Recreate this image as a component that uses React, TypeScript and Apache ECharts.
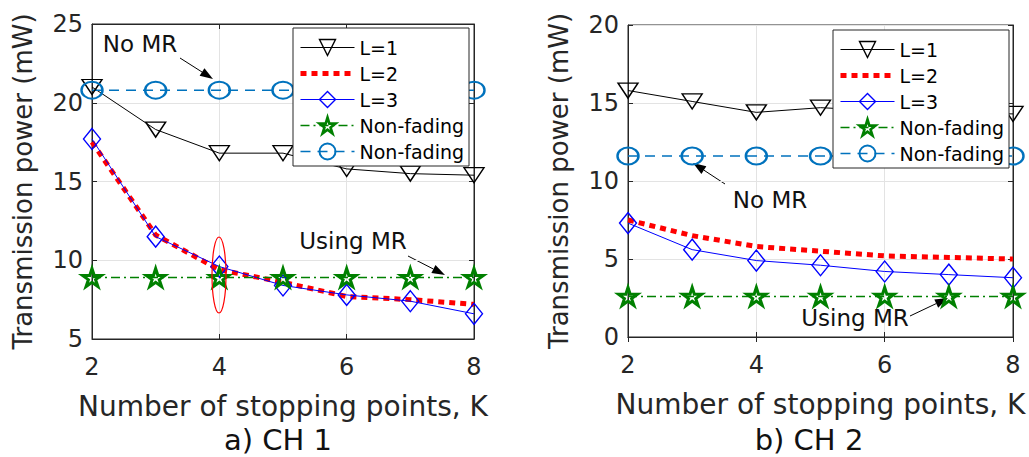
import React, { useEffect, useRef } from "react";
import * as echarts from "echarts";

// ---- data ----
const K = [2, 3, 4, 5, 6, 7, 8];
const xTicks = [2, 4, 6, 8];

const ch1L1 = [21.0, 18.3, 16.8, 16.8, 15.8, 15.5, 15.4];
const ch1L2 = [17.5, 11.6, 9.4, 8.6, 7.7, 7.5, 7.2];
const ch1L3 = [17.7, 11.5, 9.6, 8.4, 7.8, 7.4, 6.6];
const ch1UsingMR = [8.9, 8.9, 8.9, 8.9, 8.9, 8.9, 8.9];
const ch1NoMR = [20.8, 20.8, 20.8, 20.8, 20.8, 20.8, 20.8];

const ch2L1 = [15.8, 15.1, 14.4, 14.7, 14.5, 14.4, 14.3];
const ch2L2 = [7.5, 6.5, 5.8, 5.5, 5.2, 5.1, 5.0];
const ch2L3 = [7.3, 5.6, 4.9, 4.6, 4.2, 4.0, 3.8];
const ch2UsingMR = [2.6, 2.6, 2.6, 2.6, 2.6, 2.6, 2.6];
const ch2NoMR = [11.6, 11.6, 11.6, 11.6, 11.6, 11.6, 11.6];

const seriesNames = ["L=1", "L=2", "L=3", "Non-fading (Using MR)", "Non-fading (No MR)"];
const panelTitles = ["a) CH 1", "b) CH 2"];
const xName = "Number of stopping points, K";
const yName = "Transmission power (mW)";

const FONT = "DejaVu Sans";
const AX = "#262626";

const TRI = "path://M0,0L20,0L10,15Z";
const DIA = "path://M8,0L16,10L8,20L0,10Z";
const CIRC = "path://M0,10A10,10,0,1,1,20,10A10,10,0,1,1,0,10Z";
const STAR = "path://M100,0L122,69L195,69L136,112L159,181L100,138L41,181L64,112L5,69L78,69Z";

function toPts(arr: number[]) {
  return K.map((k, i) => [k, arr[i]]);
}

function makeSeries(xi: number, yi: number, d: number[][]) {
  const base = { type: "line", xAxisIndex: xi, yAxisIndex: yi, clip: false, silent: true };
  return [
    {
      ...base, name: seriesNames[0], data: toPts(d[0]),
      symbol: TRI, symbolSize: [20, 15],
      lineStyle: { color: "#000", width: 1 },
      itemStyle: { color: "rgba(0,0,0,0)", borderColor: "#000", borderWidth: 1.4 },
    },
    {
      ...base, name: seriesNames[1], data: toPts(d[1]),
      symbol: "none",
      lineStyle: { color: "#ff0000", width: 5, type: [6, 5], cap: "butt" },
      itemStyle: { color: "#ff0000" },
    },
    {
      ...base, name: seriesNames[2], data: toPts(d[2]),
      symbol: DIA, symbolSize: [17, 21],
      lineStyle: { color: "#0000ff", width: 1 },
      itemStyle: { color: "rgba(0,0,0,0)", borderColor: "#0000ff", borderWidth: 1.4 },
    },
    {
      ...base, name: seriesNames[3], data: toPts(d[3]),
      symbol: STAR, symbolSize: [19, 18],
      lineStyle: { color: "#008000", width: 1.5, type: [9, 4, 2, 4] },
      itemStyle: { color: "rgba(0,0,0,0)", borderColor: "#008000", borderWidth: 3 },
    },
    {
      ...base, name: seriesNames[4], data: toPts(d[4]),
      symbol: CIRC, symbolSize: [21, 17],
      lineStyle: { color: "#0072BD", width: 1.5, type: [10, 7] },
      itemStyle: { color: "rgba(0,0,0,0)", borderColor: "#0072BD", borderWidth: 2.2 },
    },
  ];
}

function axesFor(grid: number, ymin: number, ymax: number) {
  const tick = { show: true, inside: true, length: 5, lineStyle: { color: AX } };
  const line = { show: true, lineStyle: { color: AX, width: 1 } };
  const xa = [
    {
      gridIndex: grid, type: "value", min: 2, max: 8, interval: 2, position: "bottom",
      axisLine: line, axisTick: tick,
      axisLabel: { fontSize: 24, color: AX, fontFamily: FONT, margin: 16,
        formatter: (v: number) => (xTicks.includes(v) ? String(v) : "") },
      splitLine: { show: true, lineStyle: { color: "#e3e3e3", width: 1 } },
      name: xName, nameLocation: "middle", nameGap: 53,
      nameTextStyle: { fontSize: 28, color: AX, fontFamily: FONT },
    },
    {
      gridIndex: grid, type: "value", min: 2, max: 8, interval: 2, position: "top",
      axisLine: line, axisTick: tick, axisLabel: { show: false }, splitLine: { show: false },
    },
  ];
  const ya = [
    {
      gridIndex: grid, type: "value", min: ymin, max: ymax, interval: 5, position: "left",
      axisLine: line, axisTick: tick,
      axisLabel: { fontSize: 24, color: AX, fontFamily: FONT, margin: 9 },
      splitLine: { show: true, lineStyle: { color: "#e3e3e3", width: 1 } },
      name: yName, nameLocation: "middle", nameGap: 56,
      nameTextStyle: { fontSize: 26, color: AX, fontFamily: FONT },
    },
    {
      gridIndex: grid, type: "value", min: ymin, max: ymax, interval: 5, position: "right",
      axisLine: line, axisTick: tick, axisLabel: { show: false }, splitLine: { show: false },
    },
  ];
  return { xa, ya };
}

function legendFor(left: number, top: number) {
  return {
    orient: "vertical", left, top, itemWidth: 54, itemHeight: 20, itemGap: 7,
    padding: [10, 5, 5, 5], backgroundColor: "#fff", borderColor: AX, borderWidth: 1, borderRadius: 0,
    selectedMode: false,
    textStyle: { fontSize: 19, color: "#000", fontFamily: FONT },
    formatter: (n: string) => (n.indexOf("Non-fading") === 0 ? "Non-fading" : n),
    data: [
      { name: seriesNames[0], lineStyle: { width: 1 }, itemStyle: { borderWidth: 1.4 } },
      { name: seriesNames[1], lineStyle: { width: 5 }, itemStyle: { opacity: 0 } },
      { name: seriesNames[2], lineStyle: { width: 1 }, itemStyle: { borderWidth: 1.4 } },
      { name: seriesNames[3], lineStyle: { width: 1.5 }, itemStyle: { borderWidth: 2.6 } },
      { name: seriesNames[4], lineStyle: { width: 1.5 }, itemStyle: { borderWidth: 2 } },
    ],
  };
}

function arrow(x1: number, y1: number, x2: number, y2: number) {
  const a = Math.atan2(y2 - y1, x2 - x1);
  const L = 13, W = 4.5;
  const bx = x2 - L * Math.cos(a), by = y2 - L * Math.sin(a);
  const px = -Math.sin(a), py = Math.cos(a);
  return [
    { type: "line", shape: { x1, y1, x2: bx, y2: by }, style: { stroke: "#000", lineWidth: 1 } },
    {
      type: "polygon",
      shape: { points: [[x2, y2], [bx + W * px, by + W * py], [bx - W * px, by - W * py]] },
      style: { fill: "#000" },
    },
  ];
}

function txt(x: number, y: number, text: string, size: number) {
  return {
    type: "text", x, y, z: 10,
    style: { text, fontSize: size, fontFamily: FONT, fill: "#111", align: "center", verticalAlign: "middle" },
  };
}

export default function App() {
  const ref = useRef<HTMLDivElement>(null);
  useEffect(() => {
    if (!ref.current) return;
    const chart = echarts.init(ref.current, null, { renderer: "svg" });
    const a1 = axesFor(0, 5, 25);
    const a2 = axesFor(1, 0, 20);
    chart.setOption({
      animation: false,
      backgroundColor: "#fff",
      grid: [
        { left: 92, top: 24, width: 382, height: 315, show: true, borderColor: AX, borderWidth: 1, backgroundColor: "transparent" },
        { left: 628, top: 25, width: 385, height: 312, show: true, borderColor: AX, borderWidth: 1, backgroundColor: "transparent" },
      ],
      xAxis: [...a1.xa, ...a2.xa],
      yAxis: [...a1.ya, ...a2.ya],
      legend: [legendFor(293, 28), legendFor(833, 30)],
      series: [
        ...makeSeries(0, 0, [ch1L1, ch1L2, ch1L3, ch1UsingMR, ch1NoMR]),
        ...makeSeries(2, 2, [ch2L1, ch2L2, ch2L3, ch2UsingMR, ch2NoMR]),
      ],
      graphic: [
        txt(140, 44, "No MR", 23),
        ...arrow(180, 58, 213, 79),
        txt(353, 241, "Using MR", 23),
        ...arrow(408, 256, 445, 275),
        {
          type: "ellipse", z: 10,
          shape: { cx: 219, cy: 275, rx: 7, ry: 38 },
          style: { fill: "none", stroke: "#ff0000", lineWidth: 1.2 },
        },
        txt(770, 200, "No MR", 23),
        ...arrow(725, 184, 693, 163),
        txt(855, 318, "Using MR", 23),
        ...arrow(910, 316, 948, 298),
        txt(278, 440, panelTitles[0], 29),
        txt(809, 440, panelTitles[1], 29),
      ],
    });
    return () => chart.dispose();
  }, []);
  return (
    <div
      ref={ref}
      style={{ position: "fixed", left: 0, top: 0, width: 1029, height: 457, background: "#fff" }}
    />
  );
}
